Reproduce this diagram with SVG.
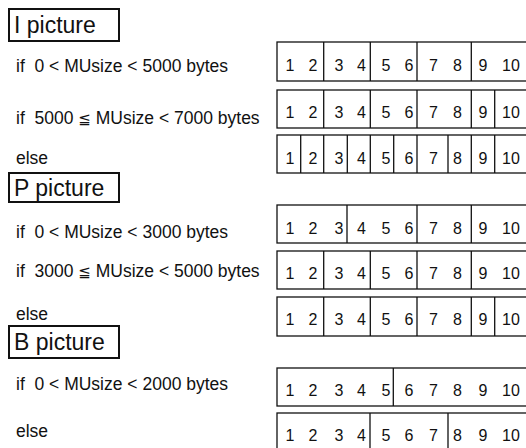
<svg xmlns="http://www.w3.org/2000/svg" width="526" height="448" viewBox="0 0 526 448">
  <style>
    .hdr { fill: none; stroke: #111; stroke-width: 2; }
    .hdr-t { font-family: "Liberation Sans", Arial, sans-serif; font-size: 23px; fill: #111; }
    .cond { font-family: "Liberation Sans", Arial, sans-serif; font-size: 17.5px; fill: #111; white-space: pre; }
    .le { font-family: "DejaVu Sans", sans-serif; font-size: 15px; }
    .row { fill: none; stroke: #111; stroke-width: 1.3; }
    .num { font-family: "Liberation Sans", Arial, sans-serif; font-size: 16px; fill: #111; text-anchor: middle; }
  </style>
  <defs>
    <!-- one line of slice numbers 1..10, placed with a y translate -->
    <g id="nums">
      <text class="num" x="290" y="0">1</text>
      <text class="num" x="313" y="0">2</text>
      <text class="num" x="339" y="0">3</text>
      <text class="num" x="361.5" y="0">4</text>
      <text class="num" x="386" y="0">5</text>
      <text class="num" x="409" y="0">6</text>
      <text class="num" x="433.5" y="0">7</text>
      <text class="num" x="457.5" y="0">8</text>
      <text class="num" x="483" y="0">9</text>
      <text class="num" x="511" y="0">10</text>
    </g>
  </defs>

  <!-- I picture -->
  <g id="i-header">
    <rect class="hdr" x="9" y="9" width="110" height="32"/>
    <text class="hdr-t" x="14" y="33">I picture</text>
  </g>
  <g id="i-cond1"><text class="cond" x="16" y="72">if  0 &lt; MUsize &lt; 5000 bytes</text></g>
  <g id="i-row1">
    <rect class="row" x="277" y="42" width="253" height="39"/>
    <path class="row" d="M323.7 42V81M370.3 42V81M417 42V81M471.3 42V81"/>
    <use href="#nums" y="71"/>
  </g>
  <g id="i-cond2"><text class="cond" x="16" y="124">if  5000 <tspan class="le">≦</tspan> MUsize &lt; 7000 bytes</text></g>
  <g id="i-row2">
    <rect class="row" x="277" y="90" width="253" height="38"/>
    <path class="row" d="M323.7 90V128M370.3 90V128M417 90V128M471.3 90V128M494.7 90V128"/>
    <use href="#nums" y="118"/>
  </g>
  <g id="i-cond3"><text class="cond" x="16" y="164">else</text></g>
  <g id="i-row3">
    <rect class="row" x="277" y="135" width="253" height="38"/>
    <path class="row" d="M300.7 135V173M323.7 135V173M347.3 135V173M370.3 135V173M393.7 135V173M417 135V173M448 135V173M471.3 135V173M494.7 135V173"/>
    <use href="#nums" y="164"/>
  </g>

  <!-- P picture -->
  <g id="p-header">
    <rect class="hdr" x="9" y="173" width="110" height="29"/>
    <text class="hdr-t" x="14" y="196">P picture</text>
  </g>
  <g id="p-cond1"><text class="cond" x="16" y="238">if  0 &lt; MUsize &lt; 3000 bytes</text></g>
  <g id="p-row1">
    <rect class="row" x="277" y="205" width="253" height="38"/>
    <path class="row" d="M347 205V243M417 205V243M471.3 205V243"/>
    <use href="#nums" y="234"/>
  </g>
  <g id="p-cond2"><text class="cond" x="16" y="277">if  3000 <tspan class="le">≦</tspan> MUsize &lt; 5000 bytes</text></g>
  <g id="p-row2">
    <rect class="row" x="277" y="251" width="253" height="38"/>
    <path class="row" d="M323.7 251V289M370.3 251V289M417 251V289M471.3 251V289"/>
    <use href="#nums" y="279"/>
  </g>
  <g id="p-cond3"><text class="cond" x="16" y="320">else</text></g>
  <g id="p-row3">
    <rect class="row" x="277" y="297" width="253" height="39"/>
    <path class="row" d="M323.7 297V336M370.3 297V336M417 297V336M471.3 297V336M494.7 297V336"/>
    <use href="#nums" y="325"/>
  </g>

  <!-- B picture -->
  <g id="b-header">
    <rect class="hdr" x="9" y="326" width="110" height="32"/>
    <text class="hdr-t" x="14" y="350">B picture</text>
  </g>
  <g id="b-cond1"><text class="cond" x="16" y="390">if  0 &lt; MUsize &lt; 2000 bytes</text></g>
  <g id="b-row1">
    <rect class="row" x="277" y="368" width="253" height="38"/>
    <path class="row" d="M393.3 368V406"/>
    <use href="#nums" y="396"/>
  </g>
  <g id="b-cond2"><text class="cond" x="16" y="437">else</text></g>
  <g id="b-row2">
    <rect class="row" x="277" y="413" width="253" height="38"/>
    <path class="row" d="M370 413V451M448 413V451"/>
    <use href="#nums" y="441"/>
  </g>
</svg>
